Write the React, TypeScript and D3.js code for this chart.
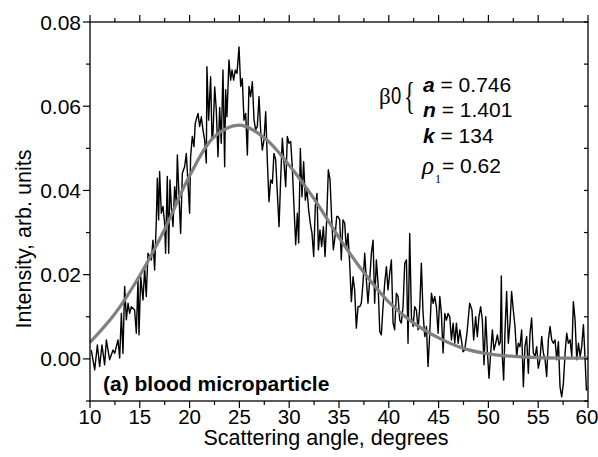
import React from "react";
import * as d3 from "d3";

const angles: number[] = [
  10.13, 10.47, 10.74, 10.97, 11.2, 11.47, 11.64, 11.97, 12.31, 12.48, 12.81, 12.98, 13.15, 13.31, 13.48, 13.65, 13.82, 13.98, 14.15, 14.48,
  14.65, 14.82, 14.92, 15.09, 15.32, 15.49, 15.65, 15.82, 16.16, 16.32, 16.49, 16.66, 16.76, 16.89, 16.99, 17.16, 17.33, 17.49, 17.59, 17.76,
  17.9, 18.03, 18.17, 18.33, 18.5, 18.67, 18.77, 18.9, 19.1, 19.27, 19.5, 19.67, 19.84, 20.0, 20.1, 20.27, 20.44, 20.57, 20.84, 21.01,
  21.18, 21.34, 21.51, 21.68, 21.74, 21.91, 22.11, 22.25,
  22.35, 22.52, 22.68, 22.85, 23.02, 23.18, 23.35, 23.52, 23.62, 23.75, 23.95, 24.12, 24.26, 24.42, 24.59, 24.76, 24.96, 25.13, 25.29, 25.46,
  25.63, 25.8, 25.96, 26.13, 26.3, 26.47, 26.63, 26.8, 26.97, 27.13, 27.3, 27.47, 27.64, 27.8, 27.97, 28.14, 28.31, 28.47, 28.64, 28.81,
  28.98, 29.14, 29.31, 29.48, 29.65, 29.81, 29.98, 30.15, 30.31, 30.48, 30.65, 30.82, 30.95, 31.12, 31.28, 31.45, 31.62, 31.79, 31.95, 32.12,
  32.29, 32.46, 32.62, 32.79, 32.93, 33.09, 33.26, 33.43, 33.6, 33.76, 33.93, 34.1, 34.27, 34.43, 34.6, 34.77,
  34.9, 35.07, 35.23, 35.4, 35.57, 35.74, 35.9, 36.07, 36.24, 36.41, 36.57, 36.74, 36.91, 37.08, 37.24, 37.41, 37.58, 37.75, 37.91, 38.08,
  38.25, 38.42, 38.58, 38.75, 38.92, 39.09, 39.25, 39.42, 39.59, 39.76, 39.92, 40.09, 40.26, 40.43, 40.59, 40.76, 40.93, 41.1, 41.26, 41.43,
  41.6, 41.77, 41.93, 42.1, 42.27, 42.44, 42.6, 42.77, 42.94, 43.11, 43.27, 43.44, 43.61, 43.78, 43.94, 44.11, 44.28, 44.45, 44.61, 44.78,
  44.95, 45.12, 45.28, 45.45, 45.62, 45.79, 45.95, 46.12, 46.29, 46.46, 46.62, 46.79, 46.96, 47.13, 47.29,
  47.45, 47.62, 47.85, 48.12, 48.35, 48.52, 48.72, 48.89, 49.05, 49.22, 49.39, 49.56, 49.73, 49.89, 50.06, 50.23, 50.4, 50.56, 50.73, 50.9,
  51.07, 51.2, 51.3, 51.4, 51.53, 51.66, 51.83, 52.0, 52.17, 52.33, 52.5, 52.67, 52.84, 53.0, 53.17, 53.34, 53.51, 53.67, 53.84, 54.01,
  54.18, 54.34, 54.51, 54.68, 54.85, 55.01, 55.18, 55.35, 55.52, 55.69, 55.85, 56.02, 56.19, 56.36, 56.52, 56.69, 56.86, 57.03, 57.19, 57.36,
  57.53, 57.7, 57.86, 58.03, 58.2, 58.37, 58.53, 58.7, 58.87, 59.04, 59.21, 59.37, 59.54, 59.71, 59.84, 59.95,
];

const intensity: number[] = [
  0.0021, -0.0026, 0.0033, -0.0018, 0.0033, -0.0014, 0.0045, -0.0002, 0.0021, 0.0013, 0.0045, 0.0002, 0.0108, 0.0013, 0.0172, 0.0093, 0.0132, 0.0108, 0.0124, 0.0116,
  0.0061, 0.0188, 0.0057, 0.0196, 0.014, 0.0215, 0.0148, 0.0251, 0.0235, 0.0282, 0.0211, 0.033, 0.0429, 0.033, 0.0445, 0.0346, 0.0362, 0.0322, 0.0251, 0.0433,
  0.0251, 0.0425, 0.0362, 0.0314, 0.0409, 0.037, 0.0484, 0.0409, 0.0298, 0.0441, 0.0456, 0.0488, 0.0417, 0.0346, 0.048, 0.0528, 0.0504, 0.056, 0.0583, 0.0552,
  0.0575, 0.0544, 0.052, 0.0465, 0.0694, 0.0567, 0.067, 0.052,
  0.0536, 0.0646, 0.0591, 0.048, 0.0597, 0.0512, 0.0686, 0.0456, 0.0639, 0.0575, 0.071, 0.0662, 0.0686, 0.0662, 0.0686, 0.0678, 0.0741, 0.0647, 0.0666, 0.0567,
  0.0583, 0.0484, 0.0647, 0.0623, 0.0658, 0.0567, 0.0544, 0.0552, 0.0623, 0.0544, 0.0496, 0.052, 0.0587, 0.0473, 0.0373, 0.0425, 0.0417, 0.0488, 0.0473, 0.0393,
  0.0314, 0.0425, 0.0524, 0.0465, 0.0409, 0.0528, 0.0512, 0.0516, 0.0456, 0.0362, 0.0271, 0.0346, 0.0275, 0.05, 0.0385, 0.0468, 0.0377, 0.0401, 0.0354, 0.0322,
  0.0298, 0.0243, 0.0362, 0.0393, 0.0259, 0.0306, 0.0267, 0.0314, 0.0243, 0.033, 0.0449, 0.0425, 0.033, 0.0259, 0.029, 0.0338,
  0.0338, 0.033, 0.0235, 0.033, 0.0322, 0.0259, 0.0298, 0.0227, 0.0136, 0.0195, 0.0164, 0.0073, 0.0124, 0.0124, 0.0132, 0.018, 0.0251, 0.0187, 0.0132, 0.0187,
  0.0251, 0.0282, 0.0132, 0.0235, 0.018, 0.0065, 0.0057, 0.0124, 0.018, 0.0219, 0.0164, 0.0203, 0.0235, 0.0085, 0.0069, 0.0156, 0.0148, 0.0092, 0.0085, 0.0124,
  0.0227, 0.0235, 0.0037, 0.0298, 0.01, 0.0077, 0.0124, 0.0116, 0.0069, 0.0124, 0.0227, 0.0108, 0.0053, 0.0077, -0.0018, 0.0061, 0.0156, 0.0132, 0.0148, 0.0124,
  0.0061, 0.0148, 0.0108, 0.0014, 0.0108, 0.0092, 0.0108, 0.01, 0.0045, 0.0085, 0.0037, 0.0085, 0.0037, 0.0069, 0.0045,
  0.0017, 0.0021, 0.0061, 0.0132, 0.0116, 0.0045, 0.01, 0.0053, 0.01, 0.0124, 0.0093, -0.0014, 0.01, 0.0021, -0.0046, 0.0014, 0.0069, 0.0021, 0.0037, 0.0057,
  0.0033, 0.004, 0.0197, 0.0006, -0.005, 0.0061, 0.016, 0.0037, 0.0085, 0.016, 0.0116, 0.0077, 0.0006, 0.0037, 0.0029, 0.0069, -0.0066, 0.0029, 0.0053, -0.0034,
  0.0061, 0.0097, 0.0014, 0.0006, 0.0029, -0.0022, -0.0002, 0.0053, 0.0014, -0.0002, -0.0042, 0.0045, 0.0077, 0.0045, 0.0037, 0.0045, -0.0002, 0.0041, -0.0066, -0.009,
  -0.0058, 0.0014, 0.0061, 0.0037, 0.0045, 0.0006, 0.0136, 0.0093, -0.0002, 0.0037, 0.0006, 0.0029, 0.0081, -0.0002, -0.0074, -0.007,
];

const fitAngles: number[] = [10, 12.5, 15, 17.5, 20, 22.5, 25, 27.5, 30, 32.5, 35, 37.5, 40, 42.5, 45, 47.5, 50, 52.5, 55, 57.5, 60];
const fitValues: number[] = [0.0039, 0.0107, 0.0198, 0.0308, 0.0435, 0.0528, 0.0555, 0.0525, 0.046, 0.038, 0.0288, 0.0205, 0.0135, 0.0085, 0.005, 0.0025, 0.0012, 0.0006, 0.0003, 0.0002, 0.0002];

const xMajor: number[] = [10, 15, 20, 25, 30, 35, 40, 45, 50, 55, 60];
const xMinor: number[] = [12.5, 17.5, 22.5, 27.5, 32.5, 37.5, 42.5, 47.5, 52.5, 57.5];
const yMajor: number[] = [0.0, 0.02, 0.04, 0.06, 0.08];
const yMinor: number[] = [-0.01, 0.01, 0.03, 0.05, 0.07];

const FONT = "'Liberation Sans', Arial, sans-serif";
const SERIF = "'Liberation Serif', 'Times New Roman', serif";

export default function App() {
  const W = 598, H = 457;
  const L = 90, R = 588, T = 22, B = 401;
  const x = d3.scaleLinear().domain([10, 60]).range([L, R]);
  const y = d3.scaleLinear().domain([-0.01, 0.08]).range([B, T]);

  const dataLine = d3.line<number>().x((_, i) => x(angles[i])).y((d) => y(d))(intensity) || "";
  const fitLine = d3
    .line<number>()
    .x((_, i) => x(fitAngles[i]))
    .y((d) => y(d))
    .curve(d3.curveCatmullRom.alpha(0.5))(fitValues) || "";

  const fmt = d3.format(".2f");
  const tickFs = 21;

  return (
    <svg width={W} height={H} style={{ position: "absolute", left: 0, top: 0 }}>
      <rect x={0} y={0} width={W} height={H} fill="#fff" />
      <path d={dataLine} fill="none" stroke="#000" strokeWidth={1.4} strokeLinejoin="round" />
      <path d={fitLine} fill="none" stroke="#808080" strokeWidth={3.2} />

      {/* frame */}
      <rect x={L} y={T} width={R - L} height={B - T} fill="none" stroke="#000" strokeWidth={1.3} />

      {/* bottom & top ticks */}
      {xMajor.map((v) => (
        <g key={"xM" + v}>
          <line x1={x(v)} x2={x(v)} y1={B} y2={B + 7} stroke="#000" strokeWidth={1.2} />
          <line x1={x(v)} x2={x(v)} y1={T} y2={T - 7} stroke="#000" strokeWidth={1.2} />
          <text x={v === 60 ? x(v) - 1 : x(v)} y={424} textAnchor="middle" fontFamily={FONT} fontSize={20.5}>
            {v}
          </text>
        </g>
      ))}
      {xMinor.map((v) => (
        <g key={"xm" + v}>
          <line x1={x(v)} x2={x(v)} y1={B} y2={B + 4} stroke="#000" strokeWidth={1.2} />
          <line x1={x(v)} x2={x(v)} y1={T} y2={T - 4} stroke="#000" strokeWidth={1.2} />
        </g>
      ))}
      {/* left & right ticks */}
      {yMajor.map((v) => (
        <g key={"yM" + v}>
          <line x1={L} x2={L - 7} y1={y(v)} y2={y(v)} stroke="#000" strokeWidth={1.2} />
          <line x1={R} x2={R - 4} y1={y(v)} y2={y(v)} stroke="#000" strokeWidth={1.2} />
          <text x={81} y={y(v)} dy="0.36em" textAnchor="end" fontFamily={FONT} fontSize={tickFs}>
            {fmt(v)}
          </text>
        </g>
      ))}
      {yMinor.map((v) => (
        <g key={"ym" + v}>
          <line x1={L} x2={L - 4} y1={y(v)} y2={y(v)} stroke="#000" strokeWidth={1.2} />
          <line x1={R} x2={R - 4} y1={y(v)} y2={y(v)} stroke="#000" strokeWidth={1.2} />
        </g>
      ))}

      {/* axis titles */}
      <text x={326} y={445} textAnchor="middle" fontFamily={FONT} fontSize={21.5}>
        Scattering angle, degrees
      </text>
      <text
        transform="translate(31,239) rotate(-90)"
        textAnchor="middle"
        fontFamily={FONT}
        fontSize={21.5}
      >
        Intensity, arb. units
      </text>

      {/* panel label */}
      <text x={103} y={391} fontFamily={FONT} fontSize={21} fontWeight="bold">
        (a) blood microparticle
      </text>

      {/* annotation */}
      <text x={379} y={104} fontFamily={SERIF} fontSize={23}>
        β
      </text>
      <text x={391} y={104} fontFamily={FONT} fontSize={23} transform="translate(391,0) scale(0.8,1) translate(-391,0)">
        0
      </text>
      <text x={404} y={109} fontFamily={SERIF} fontSize={38} transform="translate(404,0) scale(0.6,1) translate(-404,0)">
        {"{"}
      </text>
      <text x={423} y={92} fontFamily={FONT} fontSize={tickFs}>
        <tspan fontWeight="bold" fontStyle="italic">a</tspan>
        <tspan> = 0.746</tspan>
      </text>
      <text x={423} y={117} fontFamily={FONT} fontSize={tickFs}>
        <tspan fontWeight="bold" fontStyle="italic">n</tspan>
        <tspan> = 1.401</tspan>
      </text>
      <text x={423} y={143} fontFamily={FONT} fontSize={tickFs}>
        <tspan fontWeight="bold" fontStyle="italic">k</tspan>
        <tspan> = 134</tspan>
      </text>
      <text x={422} y={174} fontFamily={SERIF} fontSize={25} fontStyle="italic">
        ρ
      </text>
      <text x={435} y={183} fontFamily={SERIF} fontSize={12} fill="#000">
        1
      </text>
      <text x={442} y={173} fontFamily={FONT} fontSize={tickFs}>
        {" = 0.62"}
      </text>
    </svg>
  );
}
